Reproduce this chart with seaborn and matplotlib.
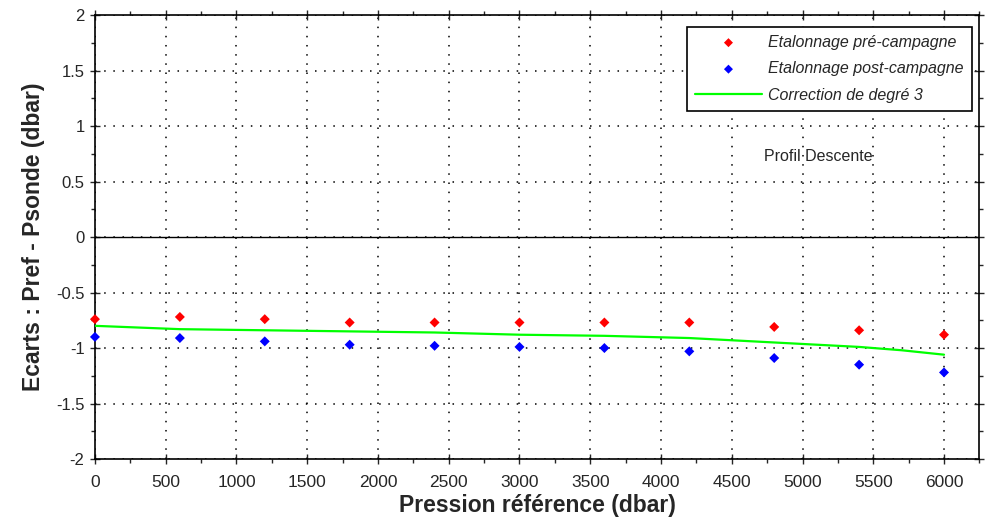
import numpy as np
import pandas as pd
import seaborn as sns
import matplotlib.pyplot as plt
from matplotlib.ticker import MultipleLocator

# pressures (dbar)
pression = [0, 600, 1200, 1800, 2400, 3000, 3600, 4200, 4800, 5400, 6000]
# pre-campaign calibration deviations
ecart_pre = [-0.74, -0.72, -0.74, -0.77, -0.77, -0.77, -0.77, -0.77, -0.81, -0.84, -0.88]
# post-campaign calibration deviations
ecart_post = [-0.90, -0.91, -0.94, -0.97, -0.98, -0.99, -1.00, -1.03, -1.09, -1.15, -1.22]
# degree 3 correction
pression_fit = [0, 600, 1200, 1800, 2400, 3000, 3600, 4200, 4800, 5100, 5400, 5700, 6000]
correction = [-0.80, -0.83, -0.84, -0.85, -0.86, -0.88, -0.89, -0.91, -0.95, -0.97, -0.99, -1.02, -1.06]

sns.set_style('white')
plt.rcParams['font.family'] = ['Liberation Sans', 'DejaVu Sans']

df = pd.DataFrame({'pression': pression, 'pre': ecart_pre, 'post': ecart_post})
fit = pd.DataFrame({'pression': pression_fit, 'correction': correction})

fig = plt.figure(figsize=(9.86, 5.21), dpi=100)
ax = fig.add_axes([0.0963, 0.119, 0.897, 0.852])

sns.scatterplot(data=df, x='pression', y='pre', ax=ax, color='#ff0000', marker='D',
                s=26, edgecolor='none', label='Etalonnage pré-campagne', zorder=4,
                clip_on=False)
sns.scatterplot(data=df, x='pression', y='post', ax=ax, color='#0000ff', marker='D',
                s=26, edgecolor='none', label='Etalonnage post-campagne', zorder=4,
                clip_on=False)
sns.lineplot(data=fit, x='pression', y='correction', ax=ax, color='#00ff00', lw=1.6,
             label='Correction de degré 3', zorder=3)

ax.axhline(0, color='black', lw=1, zorder=2)

ax.set_xlim(0, 6250)
ax.set_ylim(-2, 2)
ax.xaxis.set_major_locator(MultipleLocator(500))
ax.xaxis.set_minor_locator(MultipleLocator(250))
ax.set_yticks(np.arange(-2, 2.01, 0.5))
ax.set_yticklabels(['-2', '-1.5', '-1', '-0.5', '0', '0.5', '1', '1.5', '2'])
ax.yaxis.set_minor_locator(MultipleLocator(0.25))

ax.grid(True, which='major', color='black', linestyle=(0, (1, 5)), lw=1.1)
ax.tick_params(which='major', direction='inout', length=7, width=1,
               top=True, right=True, bottom=True, left=True)
ax.tick_params(which='minor', direction='out', length=3, width=1,
               top=True, right=True, bottom=True, left=True)
ax.tick_params(axis='x', labelsize=12.5, pad=8)
ax.tick_params(axis='y', labelsize=12, pad=4)

for sp in ax.spines.values():
    sp.set_color('black')
    sp.set_linewidth(1.2)

ax.set_xlabel('Pression référence (dbar)', fontsize=16.5, fontweight='bold', labelpad=3)
ax.set_ylabel('Ecarts : Pref - Psonde (dbar)', fontsize=16.5, fontweight='bold', labelpad=8)

ax.text(5110, 0.73, 'Profil Descente', fontsize=11.5, ha='center', va='center')

leg = ax.legend(loc='upper right', bbox_to_anchor=(0.9915, 0.9735), frameon=True,
                fancybox=False, edgecolor='black', framealpha=1,
                prop={'style': 'italic', 'size': 11.5}, handlelength=4.2,
                handletextpad=0.4, labelspacing=0.72, borderpad=0.5,
                borderaxespad=0, markerscale=0.9)
leg.get_frame().set_linewidth(1.2)

fig.savefig('out.png', dpi=100, facecolor='white')
